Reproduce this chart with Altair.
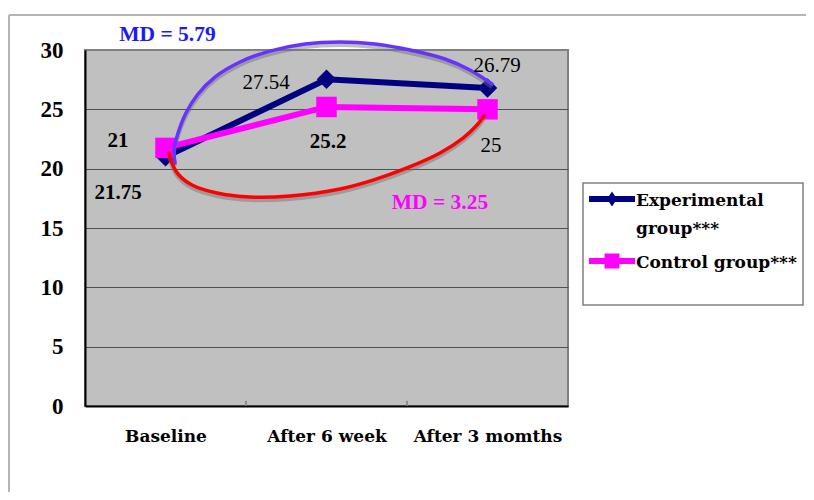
import json
import altair as alt
import pandas as pd

# ---------------- data ----------------
categories = ["Baseline", "After 6 week", "After 3 momths"]
series_names = ["Experimental group***", "Control group***"]
experimental = [21, 27.54, 26.79]
control = [21.75, 25.2, 25]
y_ticks = [0, 5, 10, 15, 20, 25, 30]

# hand-drawn outline around the curves (two strokes), in axis units
outline_top_x = [0.559, 0.553, 0.578, 0.627, 0.702, 0.807, 0.963, 1.149,
                 1.366, 1.584, 1.801, 2.019, 2.236, 2.391, 2.528]
outline_top_y = [20.48, 21.57, 23.00, 24.69, 26.29, 27.72, 28.99, 29.91,
                 30.51, 30.68, 30.51, 30.00, 29.24, 28.31, 27.13]
outline_bottom_x = [0.522, 0.540, 0.578, 0.665, 0.820, 1.025, 1.273, 1.584,
                    1.789, 2.000, 2.205, 2.348, 2.435, 2.478]
outline_bottom_y = [21.32, 20.48, 19.55, 18.62, 17.95, 17.61, 17.70, 18.29,
                    19.04, 20.06, 21.32, 22.58, 23.68, 24.44]

md_labels = ["MD = 5.79", "MD = 3.25"]
md_x = [0.512, 2.205]
md_y = [31.3, 17.1]
band_edges = [1, 2]

# ---------------- styles ----------------
W, H = 483, 356
series_colors = ["#000080", "#FF00FF"]
series_shapes = ["diamond", "square"]
series_sizes = [380, 420]
md_colors = ["#1A1AFF", "#FF00FF"]
top_color = "#6633FF"
bottom_color = "#FF0000"

# offsets (dx, dy, weight) of value labels, by (series index, category index)
label_style = {
    (0, 0): (-47.5, -16, "bold"),
    (0, 1): (-60.5, 4, "normal"),
    (0, 2): (9.5, -22, "normal"),
    (1, 0): (-47.5, 45, "bold"),
    (1, 1): (1.5, 35.5, "bold"),
    (1, 2): (3.5, 36.5, "normal"),
}

# legend symbols: line + marker (unit = 17 px), drawn slightly above centre
sym_line = "M-1,-0.586L1.706,-0.586L1.706,-0.234L-1,-0.234Z"
sym_diamond = sym_line + "M0.353,-0.85L0.647,-0.41L0.353,0.03L0.059,-0.41Z"
sym_square = sym_line + "M-0.087,-0.85L0.793,-0.85L0.793,0.03L-0.087,0.03Z"

# ---------------- tables ----------------
rows = []
for si, (s, vals) in enumerate(zip(series_names, [experimental, control])):
    for ci, (c, v) in enumerate(zip(categories, vals)):
        rows.append({"series": s, "category": c, "pos": ci + 0.5, "value": v,
                     "si": si, "ci": ci})
df = pd.DataFrame(rows)

top_df = pd.DataFrame({"ax": outline_top_x, "ay": outline_top_y,
                       "k": list(range(len(outline_top_x)))})
bottom_df = pd.DataFrame({"ax": outline_bottom_x, "ay": outline_bottom_y,
                          "k": list(range(len(outline_bottom_x)))})
md_df = pd.DataFrame({"label": md_labels, "mx": md_x, "my": md_y,
                      "i": list(range(len(md_labels)))})
edge_df = pd.DataFrame({"edge": band_edges, "y0": [0] * len(band_edges),
                        "y1": [0.45] * len(band_edges)})
one_df = pd.DataFrame({"k": [0]})

# ---------------- scales / axes ----------------
x_scale = alt.Scale(domain=[0, 3], nice=False, zero=False)
y_scale = alt.Scale(domain=[0, 30], nice=False, zero=True)
x_axis = alt.Axis(values=[0.5, 1.5, 2.5],
                  labelExpr=f"{json.dumps(categories)}[floor(datum.value)]",
                  title=None, ticks=False, grid=False, domainColor="black",
                  domainWidth=2, labelFont="DejaVu Serif", labelFontSize=17,
                  labelFontWeight="bold", labelColor="black", labelPadding=22,
                  labelFlush=False)
y_axis = alt.Axis(values=y_ticks, title=None, ticks=False, grid=True,
                  gridColor=alt.condition("datum.value == 30",
                                          alt.value("#808080"),
                                          alt.value("#505050")),
                  gridWidth=1, domainColor="black",
                  domainWidth=2, labelFont="Liberation Serif", labelFontSize=23,
                  labelFontWeight="bold", labelColor="black", labelPadding=22)


def X(f):
    return alt.X(f, scale=x_scale, axis=x_axis)


def Y(f):
    return alt.Y(f, scale=y_scale, axis=y_axis)


color_scale = alt.Scale(domain=series_names, range=series_colors)
legend = alt.Legend(
    title=None, orient="none", legendX=498, legendY=133,
    fillColor="white", strokeColor="#808080", padding=6,
    labelFont="DejaVu Serif", labelFontSize=17, labelFontWeight="bold",
    labelColor="black", labelLimit=400, labelOffset=13,
    symbolSize=1156, symbolStrokeWidth=0, symbolOpacity=1,
    labelBaseline="alphabetic", rowPadding=14,
    labelExpr=f"datum.label == '{series_names[0]}' ? ['Experimental', 'group***'] : [datum.label, ' ']",
)

# ---------------- layers ----------------
frame_left = alt.Chart(one_df).mark_rule(color="#b4b4b4", strokeWidth=2).encode(
    x=alt.value(-76), y=alt.value(-35), y2=alt.value(H + 120))
frame_top = alt.Chart(one_df).mark_rule(color="#b4b4b4", strokeWidth=2).encode(
    x=alt.value(-76), x2=alt.value(W + 300), y=alt.value(-35))

series_layers = []
for si in range(len(series_names)):
    series_layers.append(
        alt.Chart(df).transform_filter(f"datum.si == {si}")
        .mark_line(strokeWidth=6, color=series_colors[si])
        .encode(X("pos:Q"), Y("value:Q")))
for si in range(len(series_names)):
    series_layers.append(
        alt.Chart(df).transform_filter(f"datum.si == {si}")
        .mark_point(shape=series_shapes[si], size=series_sizes[si], filled=True,
                    opacity=1, color=series_colors[si])
        .encode(X("pos:Q"), Y("value:Q")))

# invisible layer that only carries the legend (line + marker symbols)
legend_helper = alt.Chart(df).mark_point(filled=True, opacity=0).encode(
    X("pos:Q"), Y("value:Q"),
    color=alt.Color("series:N", scale=color_scale, legend=legend),
    shape=alt.Shape("series:N", scale=alt.Scale(domain=series_names,
                                                 range=[sym_diamond, sym_square]),
                    legend=legend))

edge_ticks = alt.Chart(edge_df).mark_rule(color="#7f7f7f", strokeWidth=1.5).encode(
    X("edge:Q"), Y("y0:Q"), y2="y1:Q")


def outline(d, color, shadow):
    base = alt.Chart(d)
    if shadow:
        return base.transform_calculate(ays="datum.ay - 0.25").mark_line(
            color="#6e6e6e", strokeWidth=4, opacity=0.45,
            interpolate="catmull-rom").encode(X("ax:Q"), Y("ays:Q"), order="k:Q")
    return base.mark_line(color=color, strokeWidth=3.5, strokeCap="round",
                          interpolate="catmull-rom").encode(
        X("ax:Q"), Y("ay:Q"), order="k:Q")


value_labels = []
for (si, ci), (dx, dy, w) in label_style.items():
    value_labels.append(
        alt.Chart(df).transform_filter(f"datum.si == {si} && datum.ci == {ci}")
        .mark_text(dx=dx, dy=dy, font="Liberation Serif", fontSize=21,
                   fontWeight=w, color="black", align="center", baseline="middle")
        .encode(X("pos:Q"), Y("value:Q"), text=alt.Text("value:Q", format="~g")))

md_layers = []
for i, col in enumerate(md_colors):
    md_layers.append(
        alt.Chart(md_df).transform_filter(f"datum.i == {i}")
        .mark_text(font="Liberation Serif", fontSize=21.5, fontWeight="bold",
                   color=col, align="center", baseline="middle")
        .encode(X("mx:Q"), Y("my:Q"), text="label:N"))

chart = alt.layer(
    frame_left, frame_top, *series_layers, legend_helper, edge_ticks,
    outline(top_df, top_color, True), outline(bottom_df, bottom_color, True),
    outline(top_df, top_color, False), outline(bottom_df, bottom_color, False),
    *value_labels, *md_layers,
).properties(
    width=W, height=H,
    padding={"left": 77, "top": 42, "right": 238, "bottom": 86},
    autosize=alt.AutoSizeParams(type="none"),
).configure(
    style={"guide-label": {"lineHeight": 28}}
).configure_view(
    fill="#C0C0C0", stroke="#808080", strokeWidth=2
).configure_legend(strokeWidth=1.5)

chart.save("out.html", embed_options={"renderer": "svg", "actions": False})
